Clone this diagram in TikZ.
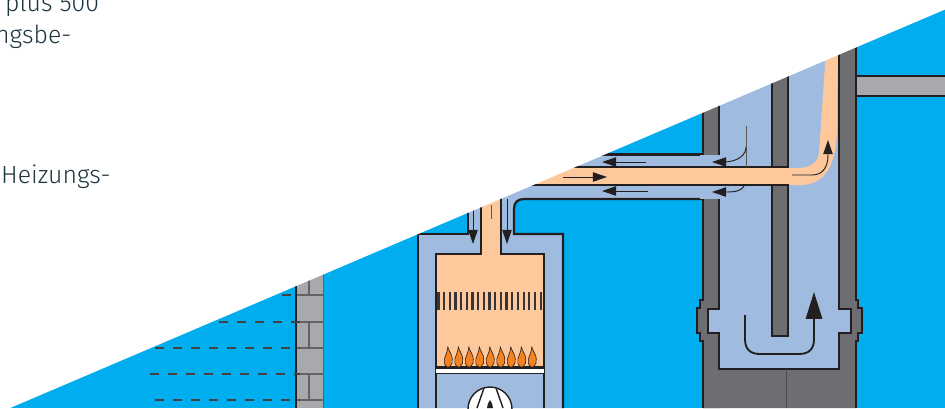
\documentclass[tikz,border=0pt]{standalone}
\usepackage{fontspec}
\setmainfont{Fira Sans Light}
\usetikzlibrary{arrows.meta}
\definecolor{sky}{RGB}{0,173,239}
\definecolor{airblue}{RGB}{160,187,224}
\definecolor{flue}{RGB}{253,200,155}
\definecolor{flame}{RGB}{245,130,32}
\definecolor{wall}{RGB}{109,110,113}
\definecolor{brick}{RGB}{167,169,172}
\definecolor{ink}{RGB}{35,31,32}
\tikzset{
  outline/.style={draw=ink, line width=1.9pt, line join=miter},
  flow/.style={draw=ink, line width=0.8pt, -{Triangle[length=12pt,width=8pt]}},
  bigflow/.style={draw=ink, line width=1.6pt, -{Triangle[length=23pt,width=14pt]}},
  stem/.style={draw=ink!75, line width=0.8pt},
  mortar/.style={draw=ink!70, line width=1pt},
  level/.style={draw=ink!85, line width=1pt, dash pattern=on 7.7pt off 7.7pt},
  label/.style={font=\fontsize{21.2}{25}\selectfont, text=ink!85!sky, anchor=base west, inner sep=0pt}
}
\begin{document}
\begin{tikzpicture}[x=0.03cm, y=-0.03cm]
  \useasboundingbox (0,0) rectangle (945,408);
  \fill[sky] (0,0) rectangle (945,408);

  % brick wall
  \fill[brick] (296,260) rectangle (323,408);
  \foreach \rowy in {295,322,348,374,400}
    \draw[mortar] (296,\rowy) -- (323,\rowy);
  \foreach \rowy/\rowend in {260/295,322/348,374/400}
    \draw[mortar] (309,\rowy) -- (309,\rowend);
  \draw[draw=ink, line width=1.2pt] (296,260) -- (296,408);
  \draw[draw=ink!70, line width=0.7pt] (323,260) -- (323,408);
  % water level lines
  \foreach \rowy/\rowx in {295/282,322/219,348/155,374/150,400/155}
    \draw[level] (\rowx,\rowy) -- (300,\rowy);

  % boiler casing and air ducts
  \fill[airblue] (418,408) -- (418,234) -- (468,234) -- (468,190) -- (514,190) -- (514,154.500)
    -- (722,154.500) -- (722,199) -- (524,199) .. controls (517,199) and (514,203) .. (514,209)
    -- (514,234) -- (563,234) -- (563,408) -- cycle;
  \draw[outline] (418,408) -- (418,234) -- (468,234) -- (468,190);
  \draw[outline] (563,408) -- (563,234) -- (514,234) -- (514,209)
    .. controls (514,203) and (517,199) .. (524,199) -- (722,199);
  \draw[outline] (520,154.500) -- (722,154.500);

  % chimney
  \fill[wall] (703,408) -- (703,100) -- (856,30) -- (856,300) -- (858,300) -- (858,308) -- (862,308)
    -- (862,333) -- (858,333) -- (858,341) -- (856,341) -- (856,408) -- cycle;
  \fill[wall] (703,100) -- (703,300) -- (700,300) -- (700,308) -- (697,308) -- (697,333) -- (700,333)
    -- (700,341) -- (703,341) -- (703,408) -- (720,408) -- (720,100) -- cycle;
  \fill[airblue] (719,60) -- (839,40) -- (839,309) -- (851,309) -- (851,333) -- (839,333) -- (839,369)
    -- (719,369) -- (719,333) -- (708,333) -- (708,309) -- (719,309) -- cycle;
  \fill[airblue] (700,155) rectangle (722,199);
  \fill[wall] (772,60) rectangle (788,336);
  \draw[outline] (703,100) -- (703,155);
  \draw[outline] (703,199) -- (703,300) -- (700,300) -- (700,308) -- (697,308) -- (697,333) -- (700,333)
    -- (700,341) -- (703,341) -- (703,408);
  \draw[outline] (719,60) -- (719,155);
  \draw[outline] (719,199) -- (719,309) -- (708,309) -- (708,333) -- (719,333) -- (719,369) -- (839,369)
    -- (839,333) -- (851,333) -- (851,309) -- (839,309) -- (839,30);
  \draw[outline] (856,20) -- (856,300) -- (858,300) -- (858,308) -- (862,308) -- (862,333) -- (858,333)
    -- (858,341) -- (856,341) -- (856,408);
  \draw[outline] (772,60) -- (772,167);
  \draw[outline] (772,185) -- (772,336) -- (788,336) -- (788,185);
  \draw[outline] (788,167) -- (788,60);
  \draw[draw=ink!45!wall, line width=0.6pt] (786,369) -- (786,408);

  % side pipe
  \fill[brick] (857,76) rectangle (945,96);
  \draw[draw=ink, line width=1.2pt] (856,76) -- (945,76) (856,96) -- (945,96);

  % flue path
  \fill[flue] (436,408) -- (436,254) -- (481,254) -- (481,190) -- (501,190) -- (501,254) -- (544,254) -- (544,367) -- (436,367) -- cycle;
  \fill[flue] (500,168) -- (790,168) .. controls (808,169) and (817,165) .. (819,153)
    -- (826,50) -- (838,50) -- (837,130) .. controls (836,170) and (822,185) .. (800,185) -- (500,185) -- cycle;
  \draw[outline] (436,367) -- (436,254) -- (481,254) -- (481,190);
  \draw[outline] (544,367) -- (544,254) -- (501,254) -- (501,190);
  \draw[outline] (500,167) -- (789,167) (500,185) -- (789,185);

  % burner, fan chamber
  \fill[airblue] (436,373) rectangle (544,408);
  \draw[outline] (436,367) -- (436,408) (544,367) -- (544,408);
  \fill[white] (436,368) rectangle (544,373);
  \draw[outline] (436,367.500) -- (544,367.500);
  \draw[draw=ink, line width=1.3pt] (436,373.500) -- (544,373.500);
  \foreach \i in {0,...,18}
    \draw[draw=ink!90, line width=1.8pt] ({438.5+\i*5.67},292) -- ({438.5+\i*5.67},310);
  \foreach \i in {0,...,8}
    \draw[fill=flame, draw=ink, line width=0.5pt, shift={({448.3+\i*10.5},367)}]
      (-1,0) .. controls (-4,-2) and (-5,-5) .. (-4,-8)
      .. controls (-3,-12) and (-1,-14) .. (-0.500,-20)
      .. controls (1,-15) and (4,-12) .. (4,-8)
      .. controls (5,-5) and (3,-2) .. (1,0) -- cycle;

  % fan
  \draw[fill=white, draw=ink, line width=1.2pt] (490,409) circle (22);
  \draw[draw=ink, line width=1.2pt] (477,408) -- (484,388) (503,408) -- (496,388);
  \fill[ink] (490,400) .. controls (488,403) and (487,406) .. (487,408) -- (493,408) .. controls (493,406) and (492,403) .. (490,400) -- cycle;

  % arrows
  \draw[flow] (646,162) -- (602,162);
  \draw[flow] (563,177) -- (607,177);
  \draw[flow] (648,191) -- (602,191);
  \draw[flow] (473,205) -- (473,244);
  \draw[flow] (507,199) -- (507,244);
  \draw[stem] (491,205) -- (491,219);
  \draw[stem] (746,126) -- (746,167);
  \draw[flow] (746,147) .. controls (746,155) and (738,162) .. (723,162) -- (712,162);
  \draw[flow] (744,186) .. controls (742,190) and (737,192) .. (727,192) -- (712,192);
  \draw[flow] (792,175) -- (812,175) .. controls (822,175) and (828,168) .. (828,155) -- (828,140);
  \draw[bigflow] (745,315) -- (745,339) .. controls (745,349) and (750,354) .. (760,354) -- (799,354)
    .. controls (809,354) and (814,349) .. (814,339) -- (814,292);

  % white page area
  \fill[white] (0,0) -- (945,0) -- (945,9.500) -- (10,408) -- (0,408) -- cycle;

  % running text
  \node[label] (textone) at (5,11) {plus 500};
  \node[label] (texttwo) at (-5,43) {ngsbe-};
  \node[label] (textthree) at (1,183) {Heizungs-};
\end{tikzpicture}
\end{document}
